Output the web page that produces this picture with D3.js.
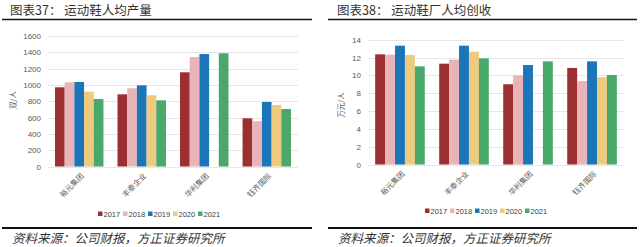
<!DOCTYPE html>
<html>
<head>
<meta charset="utf-8">
<script src="https://cdn.jsdelivr.net/npm/d3@7"></script>
<style>
  html, body { margin: 0; padding: 0; background: #fff; }
  svg text { font-family: "Liberation Sans", Arial, sans-serif; }
  .cjk { font-family: "Noto Sans CJK SC", sans-serif; }
</style>
</head>
<body>
<div id="chart"></div>
<script>
// 数据
const companies = ['裕元集团', '丰泰企业', '华利集团', '钰齐国际'];
const years = ['2017', '2018', '2019', '2020', '2021'];
const colors = ['#9c2f31', '#e8b4b8', '#1b75b8', '#eeca7e', '#4aa86a'];

// 人均产量 (双/人)，按公司、年份
const output = [
    [971, 1032, 1036, 917, 828],
    [885, 959, 995, 873, 811],
    [1155, 1343, 1379, null, 1388],
    [591, 554, 791, 754, 705]
];
const outputTicks = [0, 200, 400, 600, 800, 1000, 1200, 1400, 1600];

// 人均创收 (万元/人)
const revenue = [
    [12.36, 12.32, 13.33, 12.28, 11.01],
    [11.31, 11.76, 13.33, 12.65, 11.91],
    [9.0, 10.0, 11.16, null, 11.57],
    [10.83, 9.37, 11.57, 9.78, 10.04]
];
const revenueTicks = [0, 2, 4, 6, 8, 10, 12, 14];

const svg = d3.select('#chart').append('svg')
    .attr('width', 640)
    .attr('height', 247);

// 画一张分组柱状图
function drawPanel(opt) {
    const g = svg.append('g');

    // 标题
    g.append('text')
        .attr('class', 'cjk')
        .attr('x', opt.titleX).attr('y', 14.5)
        .attr('font-size', 12.5)
        .attr('fill', '#333')
        .text(opt.title);
    g.append('line')
        .attr('x1', opt.lineX[0]).attr('x2', opt.lineX[1])
        .attr('y1', 19.5).attr('y2', 19.5)
        .attr('stroke', '#111').attr('stroke-width', 1.5);

    const x = d3.scaleBand()
        .domain(opt.companies)
        .range(opt.xRange)
        .paddingInner(0.225)
        .paddingOuter(0.112);
    const xi = d3.scaleBand()
        .domain(years)
        .range([0, x.bandwidth()]);
    const y = d3.scaleLinear()
        .domain([0, opt.ticks[opt.ticks.length - 1]])
        .range(opt.yRange);

    // 网格
    g.append('g').selectAll('line')
        .data(opt.ticks)
        .join('line')
        .attr('x1', opt.xRange[0]).attr('x2', opt.xRange[1])
        .attr('y1', d => Math.round(y(d)) + 0.5).attr('y2', d => Math.round(y(d)) + 0.5)
        .attr('stroke', '#e6e6e6').attr('stroke-width', 1);

    // y 轴
    const yAxis = g.append('g')
        .attr('transform', `translate(${opt.xRange[0]},0)`)
        .call(d3.axisLeft(y).tickValues(opt.ticks).tickFormat(d3.format('d')).tickSize(0).tickPadding(7));
    yAxis.select('.domain').remove();
    yAxis.selectAll('text').attr('font-size', 8).attr('fill', '#595959')
        .attr('font-family', '"Liberation Sans", Arial, sans-serif');

    g.append('text')
        .attr('class', 'cjk')
        .attr('transform', `translate(${opt.yLabelPos[0]},${opt.yLabelPos[1]}) rotate(-90)`)
        .attr('text-anchor', 'middle')
        .attr('font-size', 7.5)
        .attr('fill', '#595959')
        .text(opt.yLabel);

    // 柱子
    const groups = g.append('g').selectAll('g')
        .data(opt.values)
        .join('g')
        .attr('transform', (d, i) => `translate(${x(opt.companies[i])},0)`);
    groups.selectAll('rect')
        .data(d => d.map((v, j) => ({ v, j })).filter(e => e.v != null))
        .join('rect')
        .attr('x', e => xi(years[e.j]))
        .attr('width', xi.bandwidth())
        .attr('y', e => y(e.v))
        .attr('height', e => y(0) - y(e.v))
        .attr('fill', e => colors[e.j]);

    // x 轴标签
    g.append('g').selectAll('text')
        .data(opt.companies)
        .join('text')
        .attr('class', 'cjk')
        .attr('text-anchor', 'end')
        .attr('font-size', 7.5)
        .attr('fill', '#595959')
        .attr('transform', d => `translate(${x(d) + x.bandwidth() / 2 + 5},${opt.yRange[0] + 10}) rotate(-45)`)
        .text(d => d);

    // 图例
    const legend = g.append('g')
        .attr('transform', `translate(${opt.legendX},${opt.legendY})`);
    const item = legend.selectAll('g')
        .data(years)
        .join('g')
        .attr('transform', (d, i) => `translate(${i * 25},0)`);
    item.append('rect')
        .attr('x', 0).attr('y', -2.5)
        .attr('width', 4.5).attr('height', 4.5)
        .attr('fill', (d, i) => colors[i]);
    item.append('text')
        .attr('x', 5.5).attr('y', 2.8)
        .attr('font-size', 7.5)
        .attr('fill', '#404040')
        .text(d => d);

    // 来源
    g.append('line')
        .attr('x1', opt.lineX[0]).attr('x2', opt.lineX[1])
        .attr('y1', 228).attr('y2', 228)
        .attr('stroke', '#111').attr('stroke-width', 2);
    g.append('text')
        .attr('class', 'cjk')
        .attr('x', opt.sourceX).attr('y', 243)
        .attr('font-size', 12.5)
        .attr('font-style', 'italic')
        .attr('fill', '#333')
        .text('资料来源：公司财报，方正证券研究所');
}

drawPanel({
    title: '图表37：  运动鞋人均产量',
    titleX: 10,
    lineX: [2, 312],
    companies: companies,
    values: output,
    ticks: outputTicks,
    xRange: [48, 298],
    yRange: [166.5, 36],
    yLabel: '双/人',
    yLabelPos: [16, 100],
    legendX: 98,
    legendY: 214,
    sourceX: 12
});

drawPanel({
    title: '图表38：  运动鞋厂人均创收',
    titleX: 337,
    lineX: [328, 637],
    companies: companies,
    values: revenue,
    ticks: revenueTicks,
    xRange: [368, 624],
    yRange: [164.5, 39.7],
    yLabel: '万元/人',
    yLabelPos: [344, 105],
    legendX: 425,
    legendY: 211,
    sourceX: 338
});
</script>
</body>
</html>
